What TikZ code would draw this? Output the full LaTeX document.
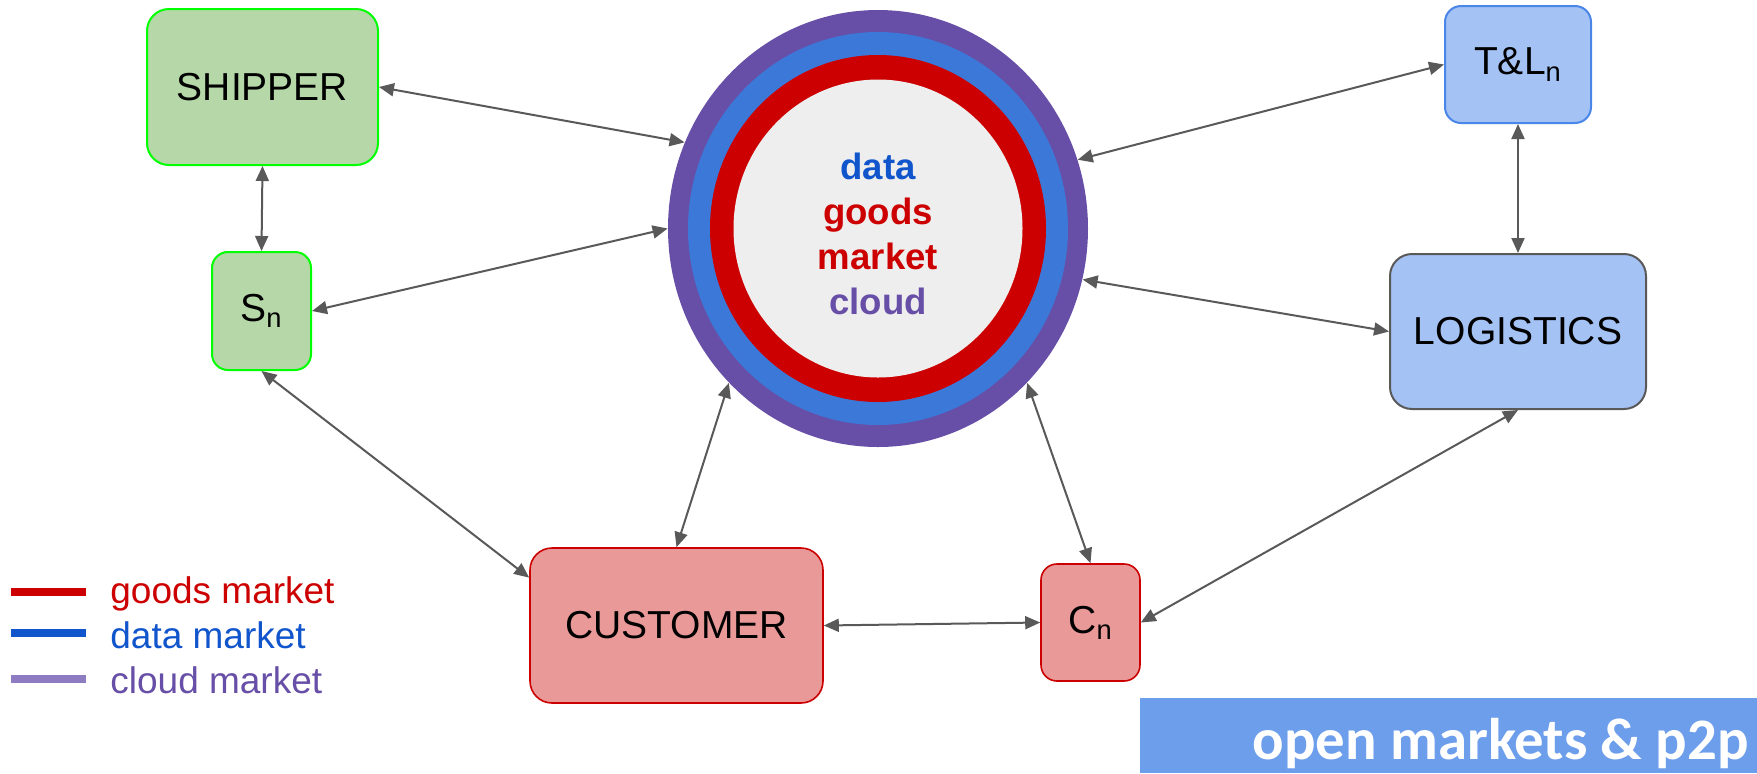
\documentclass[tikz,border=0pt]{standalone}
\usepackage{fontspec}
\setmainfont{Liberation Sans}
\newfontfamily\bannerfont{Carlito}
\usetikzlibrary{arrows.meta,shapes.geometric}
\definecolor{cpurple}{HTML}{674EA7}
\definecolor{cblue}{HTML}{3C78D8}
\definecolor{cred}{HTML}{CC0000}
\definecolor{cgray}{HTML}{EEEEEE}
\definecolor{tblue}{HTML}{1155CC}
\definecolor{lpurple}{HTML}{8E7CC3}
\definecolor{gfill}{HTML}{B6D7A8}
\definecolor{gdraw}{HTML}{00FF00}
\definecolor{rfill}{HTML}{EA9999}
\definecolor{bfill}{HTML}{A4C2F4}
\definecolor{bdraw}{HTML}{4A86E8}
\definecolor{linkgray}{HTML}{595959}
\definecolor{banner}{HTML}{6D9EEB}
\begin{document}
\begin{tikzpicture}[x=0.5pt,y=-0.5pt,
  box/.style={draw, line width=1pt, rounded corners=11pt, inner sep=0pt, text=black,
    font=\fontsize{19.5pt}{23pt}\selectfont},
  smallbox/.style={box, rounded corners=8pt},
  gbox/.style={fill=gfill, draw=gdraw},
  rbox/.style={fill=rfill, draw=cred, line width=0.8pt},
  bbox/.style={fill=bfill},
  ring/.style={ellipse, inner sep=0pt},
  link/.style={draw=linkgray, line width=1pt,
    {Triangle[length=7.5pt,width=6.5pt]}-{Triangle[length=7.5pt,width=6.5pt]}},
  legline/.style={line width=4pt},
  legtext/.style={anchor=base west, inner sep=0pt, font=\fontsize{18.5pt}{22pt}\selectfont},
]
\useasboundingbox (0,0) rectangle (1757,773);

% central rings
\node[ring, fill=cpurple, minimum width=210pt, minimum height=218.5pt] (circ) at (878,228.5) {};
\node[ring, fill=cblue, minimum width=190pt, minimum height=196.5pt] (cblue) at (878,228.5) {};
\node[ring, fill=cred, minimum width=168pt, minimum height=173.5pt] (cred) at (878,228.5) {};
\node[ring, fill=cgray, minimum width=144.5pt, minimum height=149pt] (cgray) at (878,228.5) {};
\node[align=center, font=\bfseries\fontsize{18.3pt}{22.5pt}\selectfont] (ctext) at (878,234)
  {\textcolor{tblue}{data}\\\textcolor{cred}{goods}\\\textcolor{cred}{market}\\\textcolor{cpurple}{cloud}};

% boxes
\node[box, gbox, minimum width=115.5pt, minimum height=78pt] (ship) at (262.5,87) {SHIPPER};
\node[smallbox, gbox, minimum width=49.5pt, minimum height=59pt] (sn) at (261.5,311) {S\textsubscript{n}};
\node[box, rbox, minimum width=146.5pt, minimum height=77.5pt] (cust) at (676.5,625.5) {CUSTOMER};
\node[smallbox, rbox, minimum width=49.5pt, minimum height=58.5pt] (cn) at (1090.5,622.5) {C\textsubscript{n}};
\node[box, bbox, draw=linkgray, minimum width=128pt, minimum height=77.5pt] (log) at (1518,331.5) {LOGISTICS};
\node[smallbox, bbox, draw=bdraw, minimum width=73pt, minimum height=58.5pt] (tl) at (1518,64.5) {T\&L\textsubscript{n}};

% connectors
\draw[link] (ship.east) -- (circ.156);
\draw[link] (ship.south) -- (sn.north);
\draw[link] (sn.east) -- (circ.180);
\draw[link] (sn.south) -- (cust.162);
\draw[link] (cust.north) -- (circ.226.6);
\draw[link] (circ.314) -- (cn.north);
\draw[link] (cust.east) -- (cn.west);
\draw[link] (cn.east) -- (log.south);
\draw[link] (log.west) -- (circ.346.5);
\draw[link] (tl.west) -- (circ.19.4);
\draw[link] (tl.south) -- (log.north);

% legend
\coordinate (l1a) at (11,592); \coordinate (l1b) at (86,592);
\coordinate (l2a) at (11,633); \coordinate (l2b) at (86,633);
\coordinate (l3a) at (11,679); \coordinate (l3b) at (86,679);
\draw[legline, cred] (l1a) -- (l1b);
\draw[legline, tblue] (l2a) -- (l2b);
\draw[legline, lpurple] (l3a) -- (l3b);
\node[legtext, text=cred] (lg1) at (110,603) {goods market};
\node[legtext, text=tblue] (lg2) at (110,648) {data market};
\node[legtext, text=cpurple] (lg3) at (110,693) {cloud market};

% banner
\fill[banner] (1140,698) rectangle (1757,773);
\node[anchor=base east, inner sep=0pt, text=white, font=\bannerfont\bfseries\fontsize{29.4pt}{33pt}\selectfont] (ban) at (1749,759) {open markets \& p2p};
\end{tikzpicture}
\end{document}
